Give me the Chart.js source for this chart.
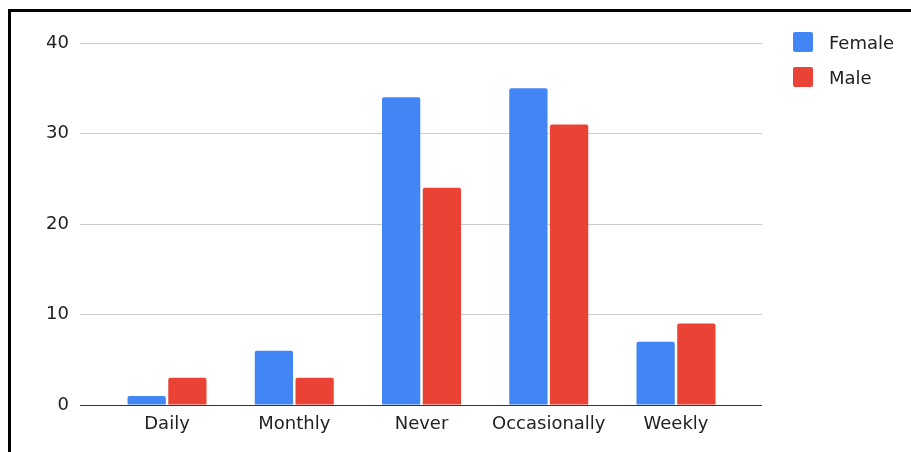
<!DOCTYPE html>
<html>
<head>
<meta charset="utf-8">
<script src="https://cdn.jsdelivr.net/npm/chart.js@4/dist/chart.umd.min.js"></script>
<style>
  body { margin: 0; background: #fff; overflow: hidden; }
  #wrap { position: relative; width: 911px; height: 452px; }
  #frame {
    position: absolute; left: 8px; top: 9px; width: 1000px; height: 1000px;
    border-left: 3px solid #000; border-top: 3px solid #000;
  }
  #legend { position: absolute; left: 793px; top: 32px; font-family: "DejaVu Sans", sans-serif; font-size: 18px; color: #222; }
  .item { display: flex; align-items: center; height: 20px; margin-bottom: 15px; }
  .box { width: 20px; height: 20px; border-radius: 2px; margin-right: 16px; }
</style>
</head>
<body>
<div id="wrap">
  <canvas id="chart" width="911" height="452"></canvas>
  <div id="frame"></div>
  <div id="legend"></div>
</div>
<script>
// data
const categories = ['Daily', 'Monthly', 'Never', 'Occasionally', 'Weekly'];
const femaleValues = [1, 6, 34, 35, 7];
const maleValues = [3, 3, 24, 31, 9];
const yTicks = [0, 10, 20, 30, 40];

const seriesNames = ['Female', 'Male'];
const seriesColors = ['#4285F4', '#EA4335'];

const FONT = { family: 'DejaVu Sans', size: 18 };

function toPoints(values) {
    return values.map((v, i) => ({ x: i, y: v }));
}

const ctx = document.getElementById('chart').getContext('2d');

window.surveyChart = new Chart(ctx, {
    type: 'bar',
    data: {
        datasets: [
            {
                label: seriesNames[0],
                data: toPoints(femaleValues),
                backgroundColor: seriesColors[0],
                borderRadius: 2,
                barPercentage: 0.94,
                categoryPercentage: 0.64
            },
            {
                label: seriesNames[1],
                data: toPoints(maleValues),
                backgroundColor: seriesColors[1],
                borderRadius: 2,
                barPercentage: 0.94,
                categoryPercentage: 0.64
            }
        ]
    },
    options: {
        responsive: false,
        animation: false,
        layout: { padding: { top: 43, right: 149, left: 0, bottom: 0 } },
        scales: {
            x: {
                type: 'linear',
                offset: false,
                bounds: 'ticks',
                min: -0.684,
                max: 4.676,
                grid: { display: false, offset: false },
                border: { display: false },
                afterBuildTicks: scale => {
                    scale.ticks = categories.map((c, i) => ({ value: i }));
                },
                afterFit: scale => { scale.height = 47; },
                ticks: {
                    padding: 1,
                    color: '#222',
                    font: FONT,
                    autoSkip: false,
                    maxRotation: 0,
                    callback: value => categories[value]
                }
            },
            y: {
                min: yTicks[0],
                max: yTicks[yTicks.length - 1],
                border: { display: false },
                afterBuildTicks: scale => {
                    scale.ticks = yTicks.map(v => ({ value: v }));
                },
                afterFit: scale => { scale.width = 80; },
                grid: {
                    drawTicks: false,
                    color: c => (c.tick && c.tick.value === 0) ? '#333' : '#ccc',
                    lineWidth: 1
                },
                ticks: {
                    padding: 11,
                    color: '#222',
                    font: FONT
                }
            }
        },
        plugins: {
            legend: { display: false },
            tooltip: { enabled: false }
        }
    }
});

// html legend
const legendEl = document.getElementById('legend');
seriesNames.forEach((name, i) => {
    const item = document.createElement('div');
    item.className = 'item';
    const box = document.createElement('span');
    box.className = 'box';
    box.style.background = seriesColors[i];
    const label = document.createElement('span');
    label.textContent = name;
    item.appendChild(box);
    item.appendChild(label);
    legendEl.appendChild(item);
});
</script>
</body>
</html>
